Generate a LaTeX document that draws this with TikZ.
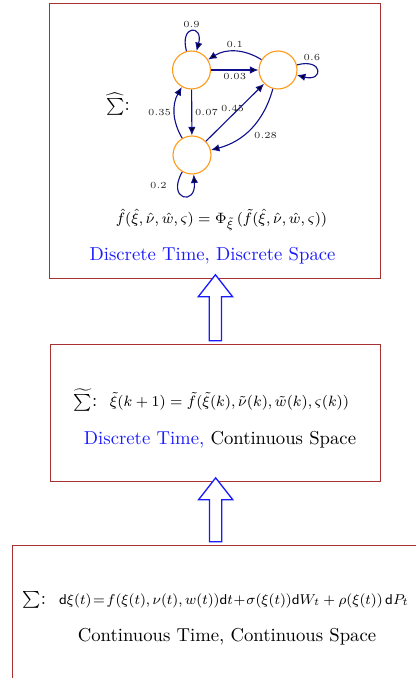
\documentclass[tikz,border=0pt]{standalone}
\usepackage{amsmath}
\usetikzlibrary{arrows.meta,calc,shapes.arrows}
\definecolor{frameRed}{HTML}{A83232}
\definecolor{edgeNavy}{HTML}{10108C}
\definecolor{stateOrange}{HTML}{FF9A1A}
\definecolor{labelBlue}{HTML}{1A1AFF}
\tikzset{
  framebox/.style={draw=frameRed,line width=0.7pt,inner sep=0pt},
  state/.style={circle,draw=stateOrange,line width=0.6pt,minimum size=0.714cm,inner sep=0pt},
  edge/.style={-{Latex[length=1.6mm,width=1.4mm]},line width=0.6pt,draw=edgeNavy},
  prob/.style={font=\tiny,text=black!85,inner sep=1.5pt},
  uparrow/.style={single arrow,shape border rotate=90,draw=labelBlue,line width=0.7pt,fill=white,
    inner sep=0.103cm,single arrow head extend=0.207cm,single arrow tip angle=76}
}

\begin{document}
\begin{tikzpicture}[x=0.0188cm,y=0.0188cm]
  \useasboundingbox (0,0) rectangle (416,-678);
  \clip (0,0) rectangle (416,-678);

  \node[framebox,anchor=north west,minimum width=6.223cm,minimum height=5.17cm] (dtds) at (49,-3) {};
  \node[framebox,anchor=north west,minimum width=6.204cm,minimum height=2.576cm] (dtcs) at (50,-344) {};
  \node[framebox,anchor=north west,minimum width=8.084cm,minimum height=2.726cm] (ctcs) at (12,-545) {};

  \node[state] (q1) at (191.5,-70) {};
  \node[state] (q2) at (278,-70) {};
  \node[state] (q3) at (192,-155) {};

  \node (hatsys) at (118,-104) {{\small$\widehat{\sum}$}:};

  \path[edge]
    (q1) edge[loop above,looseness=7,min distance=2mm] node[prob,above] {0.9} (q1)
    (q2) edge[bend right=32] node[prob,above] {0.1} (q1)
    (q1) edge node[prob,below] {0.03} (q2)
    (q2) edge[loop right,looseness=7,min distance=2mm] node[prob,pos=0.25,above] {0.6} (q2)
    (q1) edge node[prob,right] {0.07} (q3)
    (q3) edge[bend left=30] node[prob,left] {0.35} (q1)
    (q3) edge node[prob,pos=0.46,above] {0.45} (q2)
    (q2) edge[bend left=30] node[prob,below right] {0.28} (q3)
    (q3) edge[out=240,in=275,looseness=7,min distance=2mm] node[prob,pos=0.2,left=4pt] {0.2} (q3);

  \node[font=\footnotesize] (hateq) at (221.5,-220)
    {$\hat f(\hat\xi,\hat\nu,\hat w,\varsigma)=\Phi_{\tilde\xi}\,(\tilde f(\hat\xi,\hat\nu,\hat w,\varsigma))$};
  \node[text=labelBlue] (hatlbl) at (212.5,-256) {Discrete Time, Discrete Space};

  \node (tildeeq) at (211.5,-400)
    {{\small$\widetilde{\sum}$}:\ \ {\footnotesize$\tilde\xi(k+1)=\tilde f(\tilde\xi(k),\tilde\nu(k),\tilde w(k),\varsigma(k))$}};
  \node (tildelbl) at (220,-440) {{\color{labelBlue}Discrete Time,} Continuous Space};

  \node[anchor=west] (sdeeq) at (16,-600)
    {{\small$\sum$}:\hspace{7pt}\scalebox{0.955}{\footnotesize$\mathsf{d}\xi(t)\!=\!f(\xi(t),\nu(t),w(t))\mathsf{d}t\!+\!\sigma(\xi(t))\mathsf{d}W_t+\rho(\xi(t))\,\mathsf{d}P_t$}};
  \node (sdelbl) at (227,-637) {Continuous Time, Continuous Space};

  \node[uparrow,minimum height=1.24cm] (up1) at ($(dtds.south)!0.5!(dtcs.north)$) {};
  \node[uparrow,minimum height=1.2cm] (up2) at ($(dtcs.south)!0.5!(dtcs.south |- ctcs.north)$) {};
\end{tikzpicture}
\end{document}
